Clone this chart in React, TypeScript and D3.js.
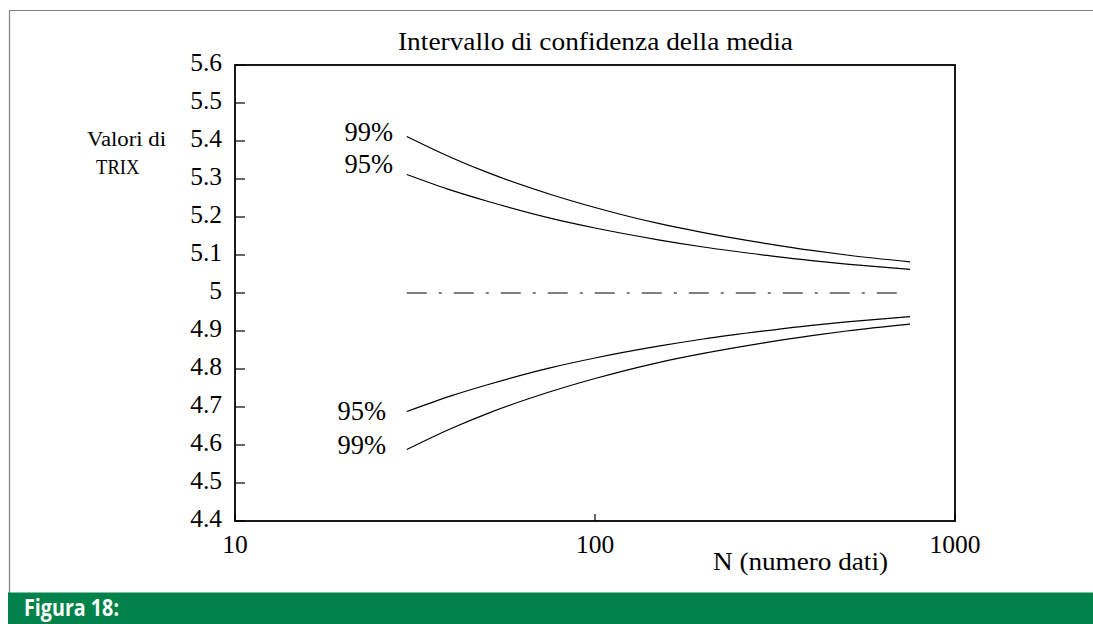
import React from "react";
import * as d3 from "d3";

const nValues = [30, 40, 50, 75, 100, 150, 200, 300, 400, 500, 750];
const upper99 = [5.412, 5.356, 5.318, 5.26, 5.225, 5.183, 5.159, 5.13, 5.112, 5.1, 5.082];
const upper95 = [5.312, 5.27, 5.242, 5.197, 5.171, 5.14, 5.121, 5.099, 5.085, 5.076, 5.062];
const lower95 = [4.688, 4.73, 4.758, 4.803, 4.829, 4.86, 4.879, 4.901, 4.915, 4.924, 4.938];
const lower99 = [4.588, 4.644, 4.682, 4.74, 4.775, 4.817, 4.841, 4.87, 4.888, 4.9, 4.918];
const meanValue = 5;
const meanRange = [30, 740];
const yTicks = [4.4, 4.5, 4.6, 4.7, 4.8, 4.9, 5, 5.1, 5.2, 5.3, 5.4, 5.5, 5.6];
const xTicks = [10, 100, 1000];

const W = 1093;
const H = 624;
const PL = 235, PR = 955, PT = 65, PB = 521;

export default function App() {
  const x = d3.scaleLog().domain([10, 1000]).range([PL, PR]);
  const y = d3.scaleLinear().domain([4.4, 5.6]).range([PB, PT]);
  const line = d3
    .line<[number, number]>()
    .x((d) => x(d[0]))
    .y((d) => y(d[1]))
    .curve(d3.curveMonotoneX);
  const series = [upper99, upper95, lower95, lower99];
  const serif = "'Liberation Serif', 'Times New Roman', serif";
  const fmtY = (v: number) => (v === 5 ? "5" : v.toFixed(1));

  const labels = [
    { text: "99%", xEnd: 393, yv: upper99[0], dy: 5 },
    { text: "95%", xEnd: 393, yv: upper95[0], dy: -1 },
    { text: "95%", xEnd: 386, yv: lower95[0], dy: 8 },
    { text: "99%", xEnd: 386, yv: lower99[0], dy: 4 },
  ];

  return (
    <svg
      width={W}
      height={H}
      style={{ position: "absolute", left: 0, top: 0, background: "#fff" }}
      fontFamily={serif}
    >
      {/* outer border */}
      <path d={`M9.5,593 V10.5 H${W + 2}`} fill="none" stroke="#808080" strokeWidth={1.2} />
      {/* footer bar */}
      <rect x={8} y={592.5} width={W} height={H - 592.5} fill="#00834a" />
      <text
        x={24}
        y={615.5}
        fill="#fff"
        fontFamily="'Open Sans', 'DejaVu Sans', sans-serif"
        fontWeight="bold"
        fontSize={22.5}
        textLength={95}
        lengthAdjust="spacingAndGlyphs"
      >
        Figura 18:
      </text>

      {/* title */}
      <text x={398} y={50} fontFamily={serif} fontSize={26} textLength={395} lengthAdjust="spacingAndGlyphs">
        Intervallo di confidenza della media
      </text>

      {/* y axis title */}
      <text x={87} y={146} fontFamily={serif} fontSize={20} textLength={79} lengthAdjust="spacingAndGlyphs">
        Valori di
      </text>
      <text x={96} y={174} fontFamily={serif} fontSize={20} textLength={43.5} lengthAdjust="spacingAndGlyphs">
        TRIX
      </text>

      {/* y ticks */}
      {yTicks.map((t) => (
        <g key={t}>
          <line x1={PL} x2={PL + 10} y1={y(t)} y2={y(t)} stroke="#000" strokeWidth={1.2} />
          <text x={222} y={y(t) + 6} fontFamily={serif} fontSize={25.5} textAnchor="end">
            {fmtY(t)}
          </text>
        </g>
      ))}

      {/* x ticks */}
      {xTicks.map((t) => (
        <g key={t}>
          <line x1={x(t)} x2={x(t)} y1={PB} y2={PB - 7} stroke="#000" strokeWidth={1.2} />
          <text x={x(t)} y={553} fontFamily={serif} fontSize={25.5} textAnchor="middle">
            {t}
          </text>
        </g>
      ))}
      <text x={713} y={570} fontFamily={serif} fontSize={25.5} textLength={175} lengthAdjust="spacingAndGlyphs">
        N (numero dati)
      </text>

      {/* frame */}
      <rect x={PL} y={PT} width={PR - PL} height={PB - PT} fill="none" stroke="#000" strokeWidth={1.8} />

      {/* mean line */}
      <line
        x1={x(meanRange[0])}
        x2={x(meanRange[1])}
        y1={y(meanValue)}
        y2={y(meanValue)}
        stroke="#555"
        strokeWidth={1.5}
        strokeDasharray="20 12 3 12"
      />

      {/* curves */}
      {series.map((s, i) => (
        <path
          key={i}
          d={line(nValues.map((n, j) => [n, s[j]] as [number, number])) || ""}
          fill="none"
          stroke="#000"
          strokeWidth={1.2}
        />
      ))}

      {labels.map((l, i) => (
        <text key={i} x={l.xEnd} y={y(l.yv) + l.dy} fontFamily={serif} fontSize={26.5} textAnchor="end">
          {l.text}
        </text>
      ))}
    </svg>
  );
}
